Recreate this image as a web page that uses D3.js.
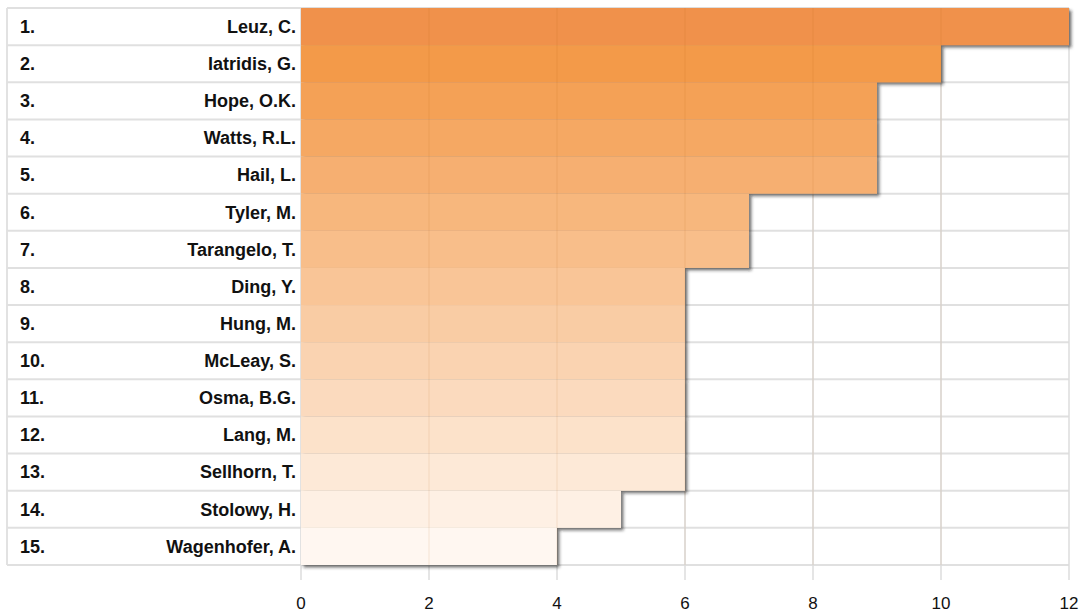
<!DOCTYPE html>
<html><head><meta charset="utf-8">
<script src="https://cdn.jsdelivr.net/npm/d3@7"></script>
<style>body{margin:0;background:#fff}svg{display:block}</style>
</head><body><svg id="c" width="1088" height="614"></svg>
<script>
const ranks = ["1.","2.","3.","4.","5.","6.","7.","8.","9.","10.","11.","12.","13.","14.","15."];
const names = ["Leuz, C.","Iatridis, G.","Hope, O.K.","Watts, R.L.","Hail, L.","Tyler, M.","Tarangelo, T.","Ding, Y.","Hung, M.","McLeay, S.","Osma, B.G.","Lang, M.","Sellhorn, T.","Stolowy, H.","Wagenhofer, A."];
const values = [12,10,9,9,9,7,7,6,6,6,6,6,6,5,4];
const xTicks = [0,2,4,6,8,10,12];

(function(){
const svg = d3.select("#c");
const left = 7, x0 = 301, x1 = 1069, yTop = 8, yBot = 565;
const x = d3.scaleLinear().domain([0,12]).range([x0,x1]);
const y = d3.scaleBand().domain(d3.range(names.length)).range([yTop,yBot]).padding(0);
const color = d3.scaleLinear().domain([0,1,14]).range(["#f0914c","#f39a4a","#fff7f1"]).interpolate(d3.interpolateRgb);

const defs = svg.append("defs");
const f = defs.append("filter").attr("id","sh").attr("x","-5%").attr("y","-20%").attr("width","120%").attr("height","160%");
f.append("feDropShadow").attr("dx",2.5).attr("dy",2.5).attr("stdDeviation",1.8).attr("flood-color","#222").attr("flood-opacity",0.6);

svg.append("line").attr("x1",left).attr("x2",left).attr("y1",yTop).attr("y2",yBot).attr("stroke","#e2e2e2").attr("stroke-width",2);
const hl = d3.range(names.length+1).map(i => yTop + i*y.bandwidth());
svg.selectAll("line.h").data(hl).join("line").attr("class","h")
  .attr("x1",left).attr("x2",x1).attr("y1",d=>d).attr("y2",d=>d)
  .attr("stroke","#e0e0e0").attr("stroke-width",2);
svg.selectAll("line.v").data(xTicks).join("line").attr("class","v")
  .attr("x1",d=>x(d)).attr("x2",d=>x(d)).attr("y1",yTop).attr("y2",580)
  .attr("stroke","#dddddd").attr("stroke-width",1.5);

svg.append("g").attr("filter","url(#sh)").selectAll("rect").data(values).join("rect")
  .attr("x",x(0)).attr("y",(d,i)=>y(i)).attr("width",d=>x(d)-x(0)).attr("height",y.bandwidth())
  .attr("fill",(d,i)=>color(i));
svg.selectAll("line.vo").data(xTicks.slice(1,-1)).join("line").attr("class","vo")
  .attr("x1",d=>x(d)).attr("x2",d=>x(d)).attr("y1",yTop).attr("y2",yBot)
  .attr("stroke","#b05a10").attr("stroke-opacity",0.08).attr("stroke-width",1.5);

const g = svg.append("g").attr("font-family","Liberation Sans, Arial, sans-serif").attr("font-size",18).attr("font-weight","bold").attr("fill","#111");
g.selectAll("text.r").data(ranks).join("text").attr("class","r")
  .attr("x",20).attr("y",(d,i)=>y(i)+y.bandwidth()/2).attr("dy","0.35em").text(d=>d);
g.selectAll("text.n").data(names).join("text").attr("class","n")
  .attr("x",296).attr("text-anchor","end").attr("y",(d,i)=>y(i)+y.bandwidth()/2).attr("dy","0.35em").text(d=>d);

svg.append("g").selectAll("text").data(xTicks).join("text")
  .attr("x",d=>x(d)).attr("y",603).attr("dy","0.35em").attr("text-anchor","middle")
  .attr("font-family","Liberation Sans Narrow, Liberation Sans, Arial, sans-serif").attr("font-size",17).attr("fill","#111")
  .text(d=>d);
})();
</script></body></html>
